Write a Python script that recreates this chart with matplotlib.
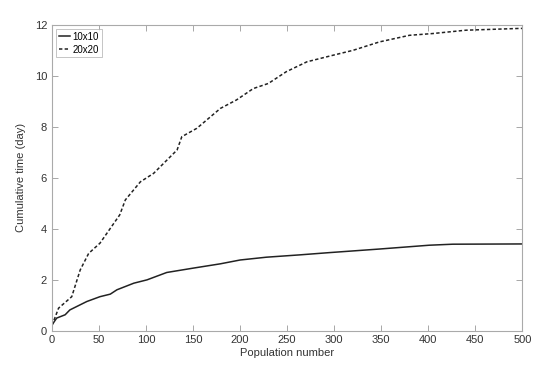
import matplotlib.pyplot as plt

plt.rcParams['font.family'] = ['Liberation Sans', 'DejaVu Sans']

# 10x10 grid
pop_10 = [0, 5, 14, 19, 37, 51, 62, 69, 87, 101, 122, 150, 179, 200, 228, 263, 295, 348, 401, 426, 500]
time_10 = [0.22, 0.49, 0.62, 0.81, 1.14, 1.33, 1.43, 1.60, 1.86, 1.99, 2.28, 2.45, 2.62, 2.77, 2.88,
           2.97, 3.06, 3.20, 3.35, 3.39, 3.40]

# 20x20 grid
pop_20 = [0, 7, 21, 30, 39, 51, 72, 78, 94, 108, 133, 138, 154, 179, 196, 214, 230, 249, 271, 299,
          320, 348, 380, 405, 440, 497, 500]
time_20 = [0.20, 0.88, 1.33, 2.38, 3.03, 3.43, 4.54, 5.13, 5.84, 6.17, 7.09, 7.61, 7.94, 8.72, 9.05,
           9.50, 9.70, 10.16, 10.55, 10.81, 11.00, 11.33, 11.59, 11.66, 11.79, 11.86, 11.86]

fig = plt.figure(figsize=(5.56, 3.71), dpi=100)
ax = fig.add_axes([0.0935, 0.109, 0.846, 0.824])

ax.plot(pop_10, time_10, color='#222222', lw=1.1, label='10x10')
ax.plot(pop_20, time_20, color='#222222', lw=1.1, linestyle=(0, (2.2, 1.5)), label='20x20')

ax.set_xlim(0, 500)
ax.set_ylim(0, 12)
ax.set_xticks(range(0, 501, 50))
ax.set_yticks(range(0, 13, 2))
ax.tick_params(direction='in', top=True, right=True, length=4, width=0.6,
               colors='#999999', labelcolor='#333333', labelsize=8)
for s in ax.spines.values():
    s.set_color('#aaaaaa')
    s.set_linewidth(0.8)

ax.set_xlabel('Population number', fontsize=8, color='#333333', labelpad=2)
ax.set_ylabel('Cumulative time (day)', fontsize=8, color='#333333', labelpad=6)

leg = ax.legend(loc='upper left', fontsize=7, frameon=True, fancybox=False,
                handlelength=1.2, handletextpad=0.2, borderpad=0.3, labelspacing=0.3,
                borderaxespad=0.4)
leg.get_frame().set_edgecolor('#aaaaaa')
leg.get_frame().set_linewidth(0.6)

plt.savefig('out.png', dpi=100)
